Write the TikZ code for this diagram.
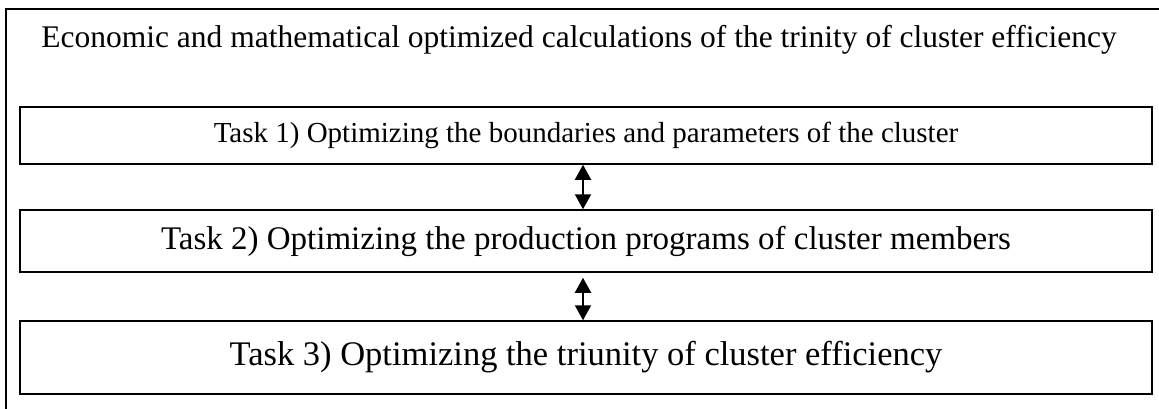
\documentclass[tikz,border=0pt]{standalone}
\usepackage{fontspec}
\setmainfont{Liberation Serif}
\usetikzlibrary{arrows.meta}
\begin{document}
\begin{tikzpicture}[x=1pt,y=-1pt,
  taskbox/.style={draw,line width=1.5pt,minimum width=1132pt,inner sep=0pt,anchor=center},
  twoway/.style={line width=2pt,{Triangle[width=16pt,length=15pt]}-{Triangle[width=16pt,length=15pt]}}]
\useasboundingbox (0,0) rectangle (1159,408);
\draw[line width=2pt] (6,420) -- (6,9) -- (1170,9);
\node (title) at (579,40) {\fontsize{31.5}{36}\selectfont Economic and mathematical optimized calculations of the trinity of cluster efficiency};
\node[taskbox,minimum height=57pt] (t1) at (586,135.5) {\fontsize{29}{33}\selectfont Task 1) Optimizing the boundaries and parameters of the cluster};
\node[taskbox,minimum height=62pt] (t2) at (586,241) {\fontsize{33}{38}\selectfont Task 2) Optimizing the production programs of cluster members};
\node[taskbox,minimum height=73pt] (t3) at (586,357.5) {\fontsize{34.5}{40}\selectfont Task 3) Optimizing the triunity of cluster efficiency};
\draw[twoway] ([xshift=-3pt]t1.south) -- ([xshift=-3pt]t2.north);
\draw[twoway] ([xshift=-3pt,yshift=-5pt]t2.south) -- ([xshift=-3pt]t3.north);
\end{tikzpicture}
\end{document}
